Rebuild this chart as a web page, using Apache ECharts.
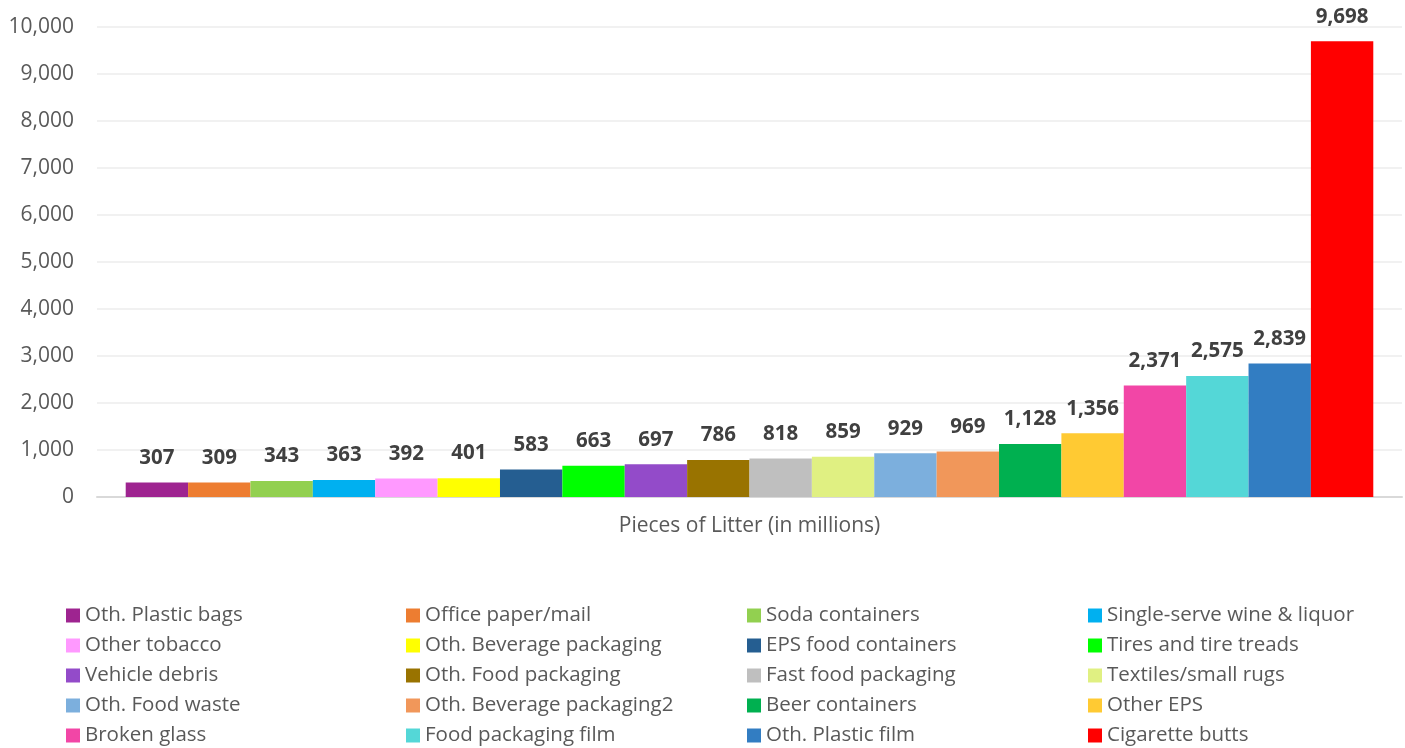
<!DOCTYPE html>
<html><head><meta charset="utf-8">
<script src="https://cdn.jsdelivr.net/npm/echarts@6/dist/echarts.min.js"></script>
<style>html,body{margin:0;padding:0;background:#fff}#c{width:1405px;height:748px}</style>
</head><body><div id="c"></div>
<script>
const category = "Pieces of Litter (in millions)";
const names = ["Oth. Plastic bags","Office paper/mail","Soda containers","Single-serve wine & liquor",
"Other tobacco","Oth. Beverage packaging","EPS food containers","Tires and tire treads",
"Vehicle debris","Oth. Food packaging","Fast food packaging","Textiles/small rugs",
"Oth. Food waste","Oth. Beverage packaging2","Beer containers","Other EPS",
"Broken glass","Food packaging film","Oth. Plastic film","Cigarette butts"];
const values = [307,309,343,363,392,401,583,663,697,786,818,859,929,969,1128,1356,2371,2575,2839,9698];
const colors = ["#9E2490","#ED7D31","#92D050","#00B0F0","#FF99FF","#FFFF00","#255E91","#00FF00",
"#934BC9","#997300","#BFBFBF","#E0F082","#7CAFDD","#F1975A","#00B050","#FFCA33",
"#F246A6","#54D7D7","#327DC2","#FF0000"];
const yTicks = {min:0,max:10000,interval:1000};

const font = "'Open Sans', sans-serif";
const series = names.map((n,i)=>({
  name:n, type:'bar', data:[values[i]], barGap:'0%', barCategoryGap:'4.4%',
  itemStyle:{color:colors[i]},
  label:{show:true, position:'top', distance:14, fontFamily:font, fontWeight:'bold', fontSize:20.5, color:'#404040',
    formatter:p=>p.value.toLocaleString('en-US')}
}));
const legendCols = [66,406,747,1088];
const legends = legendCols.map((x,c)=>({
  orient:'vertical', left:x, top:605, height:143, padding:0, itemWidth:14, itemHeight:14, itemGap:9,
  icon:'rect', data:names.filter((_,i)=>i%4===c),
  textStyle:{fontFamily:font, fontSize:20.5, color:'#595959'},
  selectedMode:false
}));
const chart = echarts.init(document.getElementById('c'));
chart.setOption({
  animation:false,
  grid:{left:97,right:3,top:27,bottom:251},
  legend:legends,
  xAxis:{type:'category', data:[category],
    axisLine:{lineStyle:{color:'#D9D9D9',width:2}}, axisTick:{show:false},
    axisLabel:{fontFamily:font,fontSize:21,color:'#595959',margin:19}},
  yAxis:{type:'value', min:yTicks.min, max:yTicks.max, interval:yTicks.interval,
    axisLine:{show:false}, axisTick:{show:false},
    splitLine:{lineStyle:{color:'#EDEDED',width:1.5}},
    axisLabel:{fontFamily:font,fontSize:21,color:'#595959',margin:23,
      formatter:v=>v.toLocaleString('en-US')}},
  series:series
});
</script></body></html>
